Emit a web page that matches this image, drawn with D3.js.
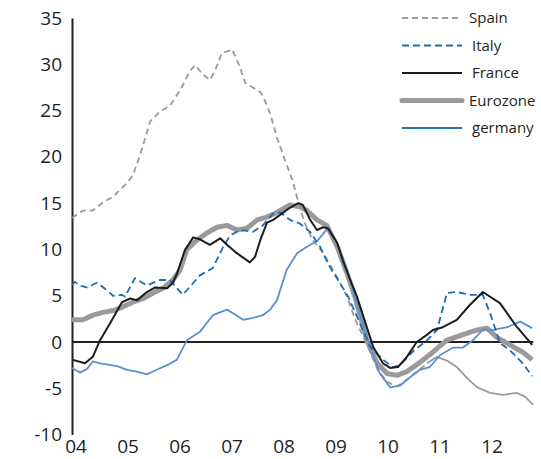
<!DOCTYPE html>
<html>
<head>
<meta charset="utf-8">
<script src="https://cdn.jsdelivr.net/npm/d3@7"></script>
<style>
  body { margin: 0; background: #fff; }
  text { font-family: "Open Sans", "Noto Sans", sans-serif; fill: #231f20; }
</style>
</head>
<body>
<div id="chart"></div>
<script>
// [decimal year, % y/y]
const spain = [[2004.0,13.4],[2004.21,14.2],[2004.40,14.2],[2004.60,15.1],[2004.79,15.7],[2005.06,17.2],[2005.17,18.0],
  [2005.31,20.2],[2005.50,23.8],[2005.69,24.9],[2005.88,25.5],[2006.08,27.2],[2006.27,29.3],[2006.37,29.9],[2006.50,29.0],
  [2006.65,28.3],[2006.75,29.3],[2006.88,31.2],[2007.08,31.6],[2007.23,29.7],[2007.33,28.0],[2007.62,27.0],[2007.67,26.6],
  [2007.81,24.7],[2007.94,22.1],[2008.06,20.2],[2008.25,17.3],[2008.38,14.5],[2008.48,12.8],[2008.63,11.0],[2008.83,9.6],
  [2009.10,7.0],[2009.29,4.9],[2009.44,2.5],[2009.69,-0.5],[2009.88,-3.0],[2010.06,-4.3],[2010.25,-4.8],[2010.50,-3.8],
  [2010.83,-2.3],[2011.02,-1.6],[2011.21,-2.0],[2011.40,-2.7],[2011.60,-3.9],[2011.79,-4.9],[2012.04,-5.5],[2012.29,-5.7],
  [2012.56,-5.5],[2012.71,-5.9],[2012.87,-6.8]];

const italy = [[2004.0,6.2],[2004.06,6.5],[2004.15,6.1],[2004.29,5.9],[2004.48,6.4],[2004.58,6.0],[2004.79,5.0],[2004.96,5.1],
  [2005.02,4.9],[2005.21,6.9],[2005.44,6.1],[2005.69,6.7],[2005.88,6.7],[2006.13,5.1],[2006.46,7.2],[2006.71,8.0],
  [2006.90,10.2],[2007.04,11.5],[2007.23,12.1],[2007.48,11.9],[2007.67,12.6],[2007.87,13.9],[2008.00,14.0],[2008.19,13.2],
  [2008.38,12.8],[2008.58,11.9],[2008.77,10.3],[2008.96,8.1],[2009.15,6.4],[2009.31,4.9],[2009.50,2.5],[2009.73,-0.5],
  [2009.98,-1.9],[2010.17,-2.7],[2010.31,-2.5],[2010.56,-1.0],[2010.83,0.2],[2011.02,1.3],[2011.21,5.3],[2011.40,5.4],
  [2011.65,5.1],[2011.90,5.1],[2012.04,3.1],[2012.23,-0.1],[2012.42,-0.9],[2012.67,-2.3],[2012.85,-3.7]];

const france = [[2004.0,-1.9],[2004.25,-2.3],[2004.40,-1.6],[2004.54,0.2],[2004.73,2.0],[2004.96,4.3],[2005.12,4.7],
  [2005.25,4.5],[2005.44,5.4],[2005.60,5.9],[2005.83,5.8],[2005.94,6.4],[2006.02,7.4],[2006.17,9.9],[2006.33,11.3],
  [2006.46,11.1],[2006.65,10.5],[2006.85,11.2],[2006.98,10.5],[2007.17,9.6],[2007.42,8.6],[2007.52,9.2],[2007.62,11.0],
  [2007.75,12.9],[2007.87,13.2],[2008.04,13.9],[2008.19,14.5],[2008.35,15.0],[2008.44,14.8],[2008.58,13.2],[2008.71,12.1],
  [2008.83,12.4],[2008.92,12.3],[2009.10,10.7],[2009.21,8.8],[2009.35,6.7],[2009.48,4.9],[2009.79,-0.5],[2009.98,-2.3],
  [2010.12,-2.8],[2010.27,-2.7],[2010.44,-1.6],[2010.63,0.0],[2010.83,0.8],[2010.94,1.3],[2011.13,1.6],[2011.40,2.4],
  [2011.65,4.0],[2011.90,5.4],[2012.23,4.2],[2012.56,1.6],[2012.85,-0.3]];

const eurozone = [[2004.0,2.4],[2004.21,2.4],[2004.40,2.9],[2004.60,3.2],[2004.79,3.4],[2004.98,3.8],[2005.17,4.3],
  [2005.37,4.7],[2005.56,5.3],[2005.75,5.8],[2005.94,6.7],[2006.08,7.8],[2006.21,10.0],[2006.40,11.0],[2006.60,11.8],
  [2006.79,12.4],[2006.98,12.6],[2007.17,12.1],[2007.37,12.3],[2007.56,13.2],[2007.75,13.5],[2007.94,14.0],[2008.19,14.8],
  [2008.38,14.6],[2008.52,14.2],[2008.71,13.2],[2008.90,12.6],[2009.10,10.3],[2009.29,7.4],[2009.44,4.9],[2009.67,0.2],
  [2009.87,-2.3],[2010.06,-3.4],[2010.25,-3.6],[2010.44,-3.2],[2010.69,-2.2],[2010.94,-1.1],[2011.21,0.2],[2011.52,0.8],
  [2011.79,1.3],[2011.98,1.5],[2012.17,0.5],[2012.42,-0.3],[2012.67,-1.1],[2012.85,-1.9]];

const germany = [[2004.0,-2.8],[2004.15,-3.3],[2004.29,-2.9],[2004.40,-2.1],[2004.54,-2.3],[2004.87,-2.6],[2005.06,-3.0],
  [2005.25,-3.2],[2005.44,-3.5],[2005.63,-3.0],[2005.83,-2.5],[2006.02,-1.9],[2006.21,0.2],[2006.46,1.1],[2006.71,2.9],
  [2006.98,3.5],[2007.10,3.1],[2007.29,2.4],[2007.48,2.6],[2007.67,2.9],[2007.81,3.5],[2007.94,4.5],[2008.13,7.8],
  [2008.33,9.6],[2008.52,10.3],[2008.73,11.0],[2008.92,12.3],[2009.10,10.7],[2009.29,7.8],[2009.44,4.9],[2009.73,-0.5],
  [2009.92,-3.4],[2010.12,-4.9],[2010.31,-4.7],[2010.50,-3.8],[2010.69,-3.0],[2010.88,-2.7],[2011.08,-1.4],[2011.33,-0.6],
  [2011.52,-0.6],[2011.71,0.2],[2011.90,1.3],[2012.10,1.3],[2012.37,1.6],[2012.62,2.2],[2012.85,1.5]];

const years = [2004, 2005, 2006, 2007, 2008, 2009, 2010, 2011, 2012];
const yTicks = [-10, -5, 0, 5, 10, 15, 20, 25, 30, 35];
const legendNames = ["Spain", "Italy", "France", "Eurozone", "germany"];

const svg = d3.select("#chart").append("svg")
  .attr("width", 541)
  .attr("height", 459);

const x = d3.scaleLinear().domain([2004, 2013]).range([72, 540]);
const y = d3.scaleLinear().domain([-10, 35]).range([434.6, 18]);

const line = d3.line()
  .x(d => x(d[0]))
  .y(d => y(d[1]));

// y axis
const yAxis = svg.append("g")
  .attr("transform", "translate(72,0)")
  .call(d3.axisLeft(y).tickValues(yTicks).tickFormat(d => String(d)).tickSize(0).tickPadding(10));
yAxis.select(".domain").attr("stroke", "#231f20").attr("stroke-width", 2);
yAxis.selectAll("text")
  .style("font-family", '"Open Sans", "Noto Sans", sans-serif')
  .style("font-size", "19px")
  .attr("fill", "#231f20");

// x labels
svg.append("g").selectAll("text")
  .data(years)
  .join("text")
  .attr("x", d => x(d) + 4)
  .attr("y", 453)
  .attr("text-anchor", "middle")
  .style("font-size", "19px")
  .text(d => String(d).slice(2));

// zero line
svg.append("line")
  .attr("x1", x(2004)).attr("x2", x(2012.87))
  .attr("y1", y(0)).attr("y2", y(0))
  .attr("stroke", "#231f20")
  .attr("stroke-width", 2);

const styles = {
  Spain:    { color: "#9a9a9c", width: 1.8, dash: "6,4" },
  Italy:    { color: "#1a6db4", width: 1.8, dash: "7,4" },
  France:   { color: "#1c1c1c", width: 2 },
  Eurozone: { color: "#9a9a9c", width: 5 },
  germany:  { color: "#5b8fd4", width: 1.8, legendColor: "#1f78b4" }
};

function draw(data, s, dash) {
  svg.append("path")
    .datum(data)
    .attr("d", line)
    .attr("fill", "none")
    .attr("stroke", s.color)
    .attr("stroke-width", s.width)
    .attr("stroke-linejoin", "round")
    .attr("stroke-dasharray", dash || null);
}

// Spain turns solid in the last part
draw(spain.filter(d => d[0] <= 2010.83), styles.Spain, styles.Spain.dash);
draw(spain.filter(d => d[0] >= 2010.83), styles.Spain);
draw(eurozone, styles.Eurozone);
draw(germany, styles.germany);
draw(italy, styles.Italy, styles.Italy.dash);
draw(france, styles.France);

// Legend
const legend = svg.append("g");
legendNames.forEach((name, i) => {
  const s = styles[name];
  const ly = 18 + i * 27.5;
  legend.append("line")
    .attr("x1", 402).attr("x2", 462)
    .attr("y1", ly).attr("y2", ly)
    .attr("stroke", s.legendColor || s.color)
    .attr("stroke-width", s.width)
    .attr("stroke-linecap", name === "Eurozone" ? "round" : "butt")
    .attr("stroke-dasharray", s.dash || null);
  legend.append("text")
    .attr("x", name === "Spain" || name === "Eurozone" ? 469 : 472)
    .attr("y", ly + 5)
    .style("font-size", "15px")
    .text(name);
});
</script>
</body>
</html>
